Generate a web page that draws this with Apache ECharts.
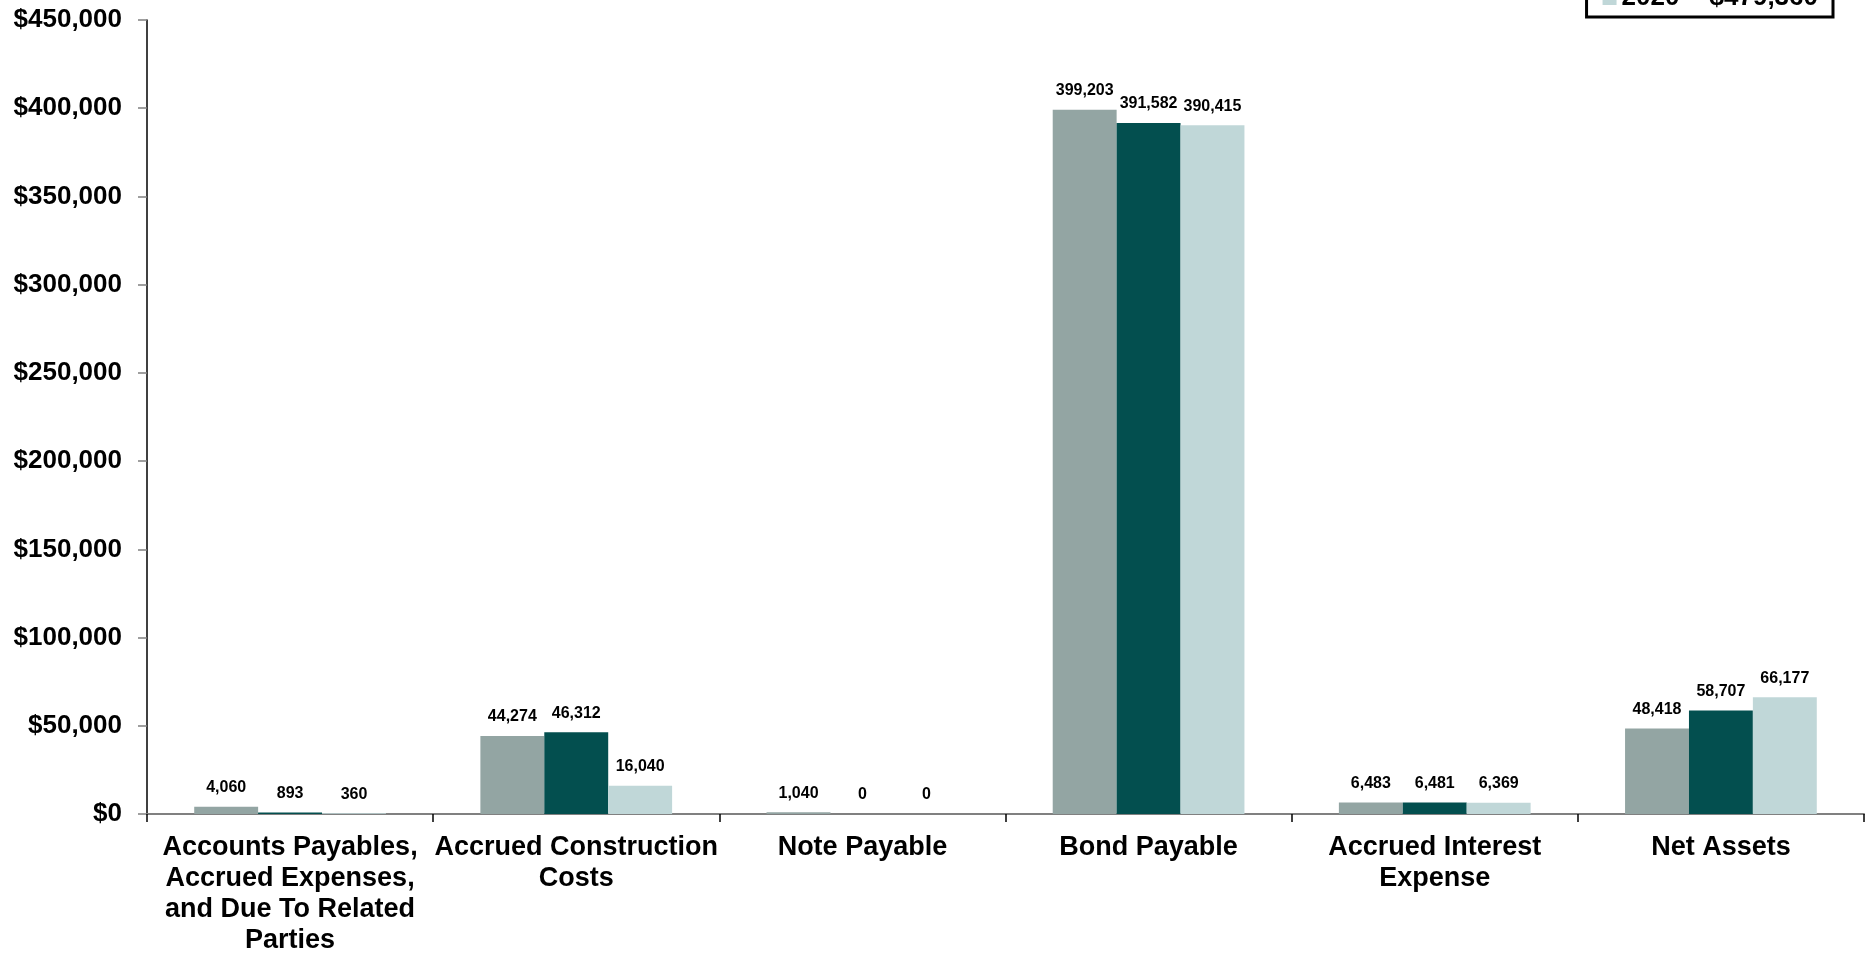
<!DOCTYPE html>
<html>
<head>
<meta charset="utf-8">
<script src="https://cdn.jsdelivr.net/npm/echarts@6/dist/echarts.min.js"></script>
<style>
  html, body { margin: 0; padding: 0; background: #fff; }
  #chart { width: 1870px; height: 956px; }
</style>
</head>
<body>
<div id="chart"></div>
<script>
// categories (line breaks as in the original slide)
const categories = [
  'Accounts Payables,\nAccrued Expenses,\nand Due To Related\nParties',
  'Accrued Construction\nCosts',
  'Note Payable',
  'Bond Payable',
  'Accrued Interest\nExpense',
  'Net Assets'
]

const years = ['2018', '2019', '2020']
const totals = ['$503,478', '$503,975', '$479,360']

const values2018 = [4060, 44274, 1040, 399203, 6483, 48418]
const values2019 = [893, 46312, 0, 391582, 6481, 58707]
const values2020 = [360, 16040, 0, 390415, 6369, 66177]

const colors = ['#93A5A3', '#034F4F', '#C0D7D8']

const font = 'Arial, "Liberation Sans", sans-serif'

const chart = echarts.init(document.getElementById('chart'))

function makeSeries(name, data, color) {
  return {
    name,
    type: 'bar',
    data,
    barGap: '0%',
    barCategoryGap: '33%',
    itemStyle: { color },
    label: {
      show: true,
      position: 'top',
      distance: 11,
      color: '#000',
      fontFamily: font,
      fontWeight: 'bold',
      fontSize: 16,
      formatter: (p) => p.value.toLocaleString('en-US')
    }
  }
}

chart.setOption({
  backgroundColor: '#fff',
  animation: false,
  textStyle: { fontFamily: font },
  grid: { left: 147, right: 6, top: 20, bottom: 142, containLabel: false, outerBoundsMode: 'none' },
  legend: {
    orient: 'vertical',
    right: 37,
    top: -87,
    backgroundColor: '#fff',
    borderColor: '#000',
    borderWidth: 3,
    padding: [8, 15, 6, 16],
    itemGap: 6,
    itemWidth: 14,
    itemHeight: 14,
    icon: 'rect',
    data: years,
    formatter: (name) => `{y|${name}}{v|${totals[years.indexOf(name)]}}`,
    textStyle: {
      rich: {
        y: { width: 88, fontSize: 26, fontWeight: 'bold', fontFamily: font, color: '#000', lineHeight: 28 },
        v: { fontSize: 26, fontWeight: 'bold', fontFamily: font, color: '#000', lineHeight: 28 }
      }
    }
  },
  xAxis: {
    type: 'category',
    data: categories,
    axisLine: { lineStyle: { color: '#808080', width: 2 } },
    axisTick: { show: true, length: 8, lineStyle: { color: '#000', width: 1.5 } },
    axisLabel: {
      interval: 0,
      margin: 18,
      color: '#000',
      fontFamily: font,
      fontWeight: 'bold',
      fontSize: 27,
      lineHeight: 31
    },
    splitLine: { show: false }
  },
  yAxis: {
    type: 'value',
    min: 0,
    max: 450000,
    interval: 50000,
    axisLine: { show: true, lineStyle: { color: '#000', width: 1.5 } },
    axisTick: { show: true, length: 9, lineStyle: { color: '#808080', width: 1.5 } },
    axisLabel: {
      margin: 25,
      color: '#000',
      fontFamily: font,
      fontWeight: 'bold',
      fontSize: 26,
      formatter: (v) => '$' + v.toLocaleString('en-US')
    },
    splitLine: { show: false }
  },
  series: [
    makeSeries(years[0], values2018, colors[0]),
    makeSeries(years[1], values2019, colors[1]),
    makeSeries(years[2], values2020, colors[2])
  ]
})
</script>
</body>
</html>
